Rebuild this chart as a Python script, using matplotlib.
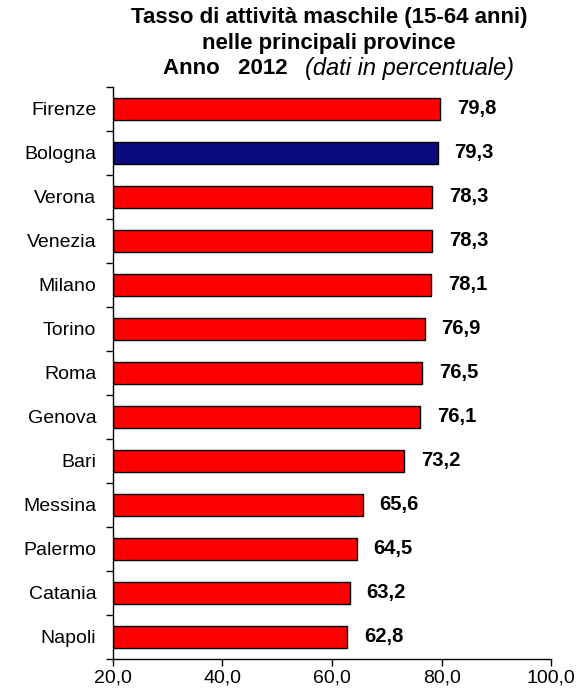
import matplotlib.pyplot as plt

plt.rcParams['font.family'] = ['Liberation Sans', 'DejaVu Sans']

# dati
province = ['Firenze', 'Bologna', 'Verona', 'Venezia', 'Milano', 'Torino', 'Roma',
            'Genova', 'Bari', 'Messina', 'Palermo', 'Catania', 'Napoli']
valori = [79.8, 79.3, 78.3, 78.3, 78.1, 76.9, 76.5, 76.1, 73.2, 65.6, 64.5, 63.2, 62.8]
colori = ['#0b0b80' if p == 'Bologna' else '#ff0000' for p in province]
xticks = [20, 40, 60, 80, 100]

fig = plt.figure(figsize=(5.82, 6.95), dpi=100)
ax = fig.add_axes([0.194, 0.052, 0.753, 0.823])

pos = list(range(len(province)))
ax.barh(pos, [v - 20 for v in valori], left=20, height=0.5, color=colori,
        edgecolor='black', linewidth=1)

for p, v in zip(pos, valori):
    ax.annotate(('%.1f' % v).replace('.', ','), xy=(v, p), xytext=(12, 0),
                textcoords='offset points', va='center', ha='left',
                fontsize=14.5, fontweight='bold')

ax.set_ylim(len(province) - 0.5, -0.5)
ax.set_yticks([i + 0.5 for i in range(-1, len(province))])
ax.set_yticklabels([])
ax.set_yticks(pos, minor=True)
ax.set_yticklabels(province, minor=True, fontsize=14)
ax.tick_params(axis='y', which='minor', length=0, pad=12)
ax.tick_params(axis='y', which='major', length=5, width=1, direction='out')

ax.set_xlim(20, 100)
ax.set_xticks(xticks)
ax.set_xticklabels([('%.1f' % x).replace('.', ',') for x in xticks], fontsize=14)
ax.tick_params(axis='x', length=5, width=1, direction='out', pad=3)

ax.spines['top'].set_visible(False)
ax.spines['right'].set_visible(False)
ax.spines['left'].set_linewidth(1)
ax.spines['bottom'].set_linewidth(1)

# titolo
fig.text(0.565, 1 - 18 / 695, 'Tasso di attività maschile (15-64 anni)', ha='center',
         va='center', fontsize=16, fontweight='bold')
fig.text(0.565, 1 - 44 / 695, 'nelle principali province', ha='center',
         va='center', fontsize=16, fontweight='bold')
fig.text(288 / 582, 1 - 69 / 695, 'Anno   2012', ha='right', va='center',
         fontsize=16, fontweight='bold')
fig.text(305 / 582, 1 - 69 / 695, '(dati in percentuale)', ha='left', va='center',
         fontsize=17, fontstyle='italic')

fig.savefig('out.png', dpi=100)
